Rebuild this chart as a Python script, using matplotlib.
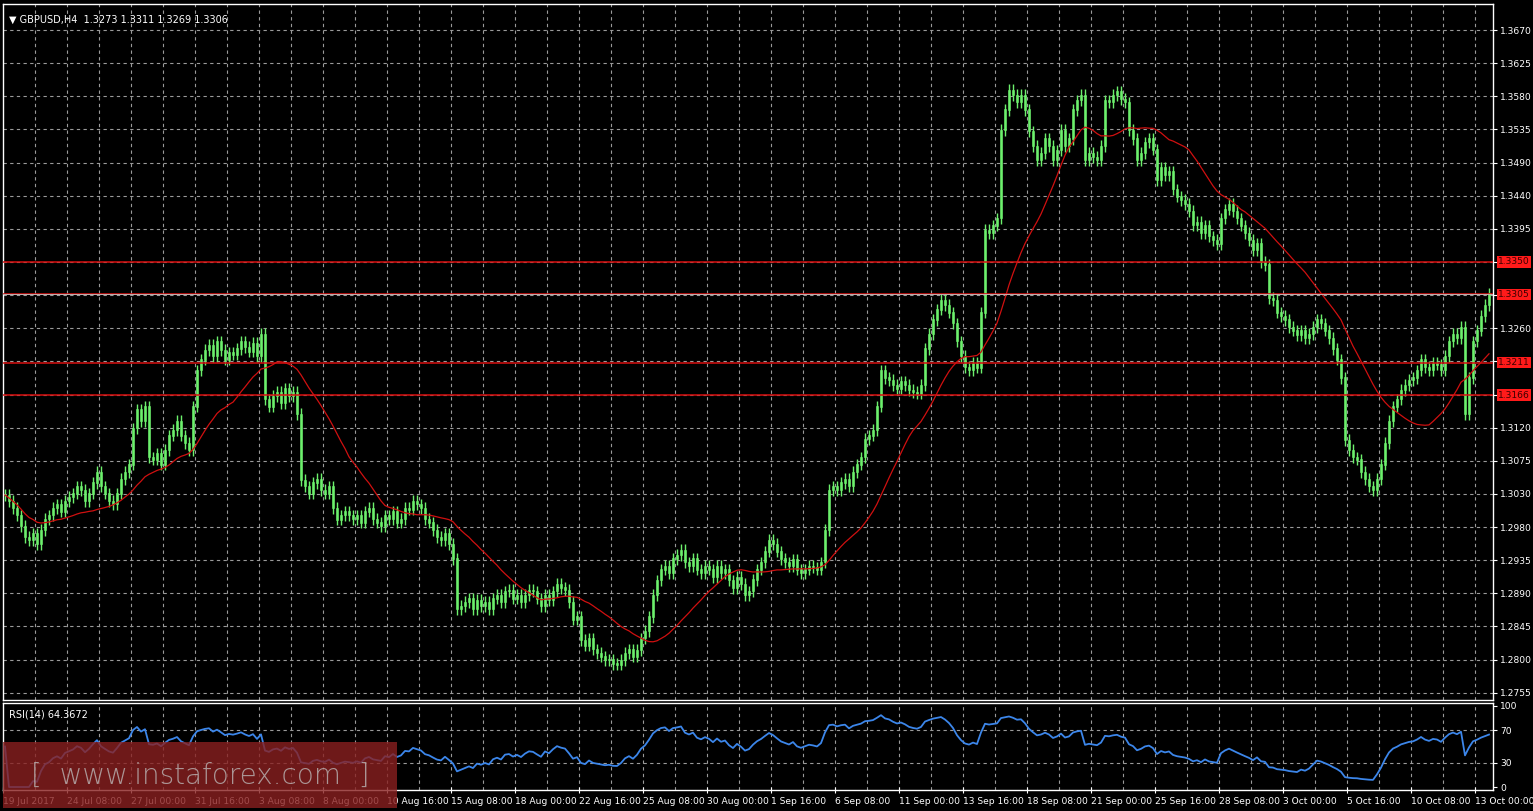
import numpy as np
import pandas as pd
import matplotlib
matplotlib.use("Agg")
import matplotlib.pyplot as plt
import matplotlib.transforms as mtransforms
from matplotlib.patches import Rectangle

closes_pips = [
13028,13020,13010,13000,12985,12970,12966,12975,12960,12980,12995,13000,13010,13015,13005,13020,
13025,13030,13040,13035,13020,13030,13045,13060,13040,13030,13020,13015,13030,13050,13060,13070,
13120,13146,13130,13150,13080,13077,13085,13070,13090,13110,13118,13130,13110,13100,13090,13150,
13200,13215,13228,13235,13220,13240,13228,13215,13225,13222,13230,13240,13232,13226,13238,13220,
13250,13160,13150,13165,13170,13155,13175,13165,13170,13140,13049,13040,13030,13045,13050,13035,
13030,13040,13010,12994,13000,13005,13000,12995,13000,12990,13005,13010,12995,12990,12985,13000,
12995,13005,12990,12995,13010,13008,13020,13015,13010,12995,12990,12980,12970,12966,12975,12960,
12940,12870,12875,12880,12885,12870,12883,12875,12880,12870,12885,12890,12880,12895,12897,12885,
12890,12880,12890,12897,12895,12885,12875,12890,12883,12895,12905,12900,12897,12880,12856,12860,
12828,12820,12830,12815,12810,12805,12800,12801,12795,12794,12800,12810,12815,12805,12814,12830,
12840,12860,12890,12910,12925,12930,12920,12940,12945,12952,12935,12930,12940,12925,12920,12930,
12925,12915,12930,12920,12925,12910,12900,12915,12905,12890,12895,12911,12925,12935,12950,12966,
12960,12950,12940,12935,12930,12939,12925,12920,12925,12930,12928,12925,12935,12980,13035,13040,
13035,13045,13050,13040,13060,13070,13080,13105,13110,13118,13150,13200,13190,13187,13180,13175,
13185,13180,13173,13170,13168,13180,13230,13250,13270,13284,13297,13290,13280,13265,13240,13220,
13205,13200,13210,13204,13280,13394,13390,13400,13410,13532,13560,13587,13580,13570,13580,13560,
13530,13510,13491,13500,13520,13510,13490,13504,13532,13510,13520,13560,13573,13580,13491,13500,
13495,13490,13510,13573,13570,13580,13585,13575,13570,13532,13520,13491,13500,13515,13520,13505,
13463,13480,13470,13475,13450,13440,13435,13430,13420,13401,13405,13390,13400,13385,13380,13375,
13410,13422,13430,13420,13410,13400,13390,13380,13366,13375,13350,13346,13300,13297,13280,13275,
13270,13260,13255,13249,13255,13245,13250,13260,13270,13265,13255,13245,13230,13215,13190,13104,
13090,13080,13077,13060,13050,13040,13035,13050,13070,13100,13130,13150,13160,13173,13180,13187,
13190,13200,13215,13205,13200,13210,13208,13200,13220,13240,13250,13245,13260,13140,13190,13240,
13255,13275,13290,13306]

date_labels = ["19 Jul 2017","24 Jul 08:00","27 Jul 00:00","31 Jul 16:00","3 Aug 08:00","8 Aug 00:00",
"10 Aug 16:00","15 Aug 08:00","18 Aug 00:00","22 Aug 16:00","25 Aug 08:00","30 Aug 00:00",
"1 Sep 16:00","6 Sep 08:00","11 Sep 00:00","13 Sep 16:00","18 Sep 08:00","21 Sep 00:00",
"25 Sep 16:00","28 Sep 08:00","3 Oct 00:00","5 Oct 16:00","10 Oct 08:00","13 Oct 00:00"]
price_labels = ["1.2755","1.2800","1.2845","1.2890","1.2935","1.2980","1.3030","1.3075","1.3120","",
"","1.3260","","","1.3395","1.3440","1.3490","1.3535","1.3580","1.3625","1.3670"]
levels = [1.3350, 1.3305, 1.3211, 1.3166]
level_labels = ["1.3350","1.3305","1.3211","1.3166"]

close = np.array(closes_pips) / 10000.0
n = len(close)
opn = np.concatenate([[close[0]], close[:-1]])
wick = 0.0008
high = np.maximum(opn, close) + wick
low = np.minimum(opn, close) - wick
ma = pd.Series(close).rolling(22, min_periods=1).mean().values
d = pd.Series(close).diff()
up = d.clip(lower=0).ewm(alpha=1/14, adjust=False).mean()
dn = (-d.clip(upper=0)).ewm(alpha=1/14, adjust=False).mean()
rsi = (100 - 100 / (1 + up / dn.replace(0, np.nan))).fillna(50).values

W, H = 1533, 811
fig = plt.figure(figsize=(W/100, H/100), dpi=100, facecolor="black")
def rect(l, t, r, b):
    return [l/W, 1-b/H, (r-l)/W, (b-t)/H]
ax = fig.add_axes(rect(3, 4, 1493, 700), facecolor="black")
ax2 = fig.add_axes(rect(3, 703, 1493, 790), facecolor="black")
green = "#6cf06c"
x = np.arange(n)
xl = (-0.5, 372.0)
for a in (ax, ax2):
    a.set_xlim(*xl)
    for s in a.spines.values():
        s.set_color("white"); s.set_linewidth(1)
    a.tick_params(left=False, bottom=False, labelleft=False, labelbottom=False)
    for g in np.arange(7.5, 372, 8):
        a.axvline(g, color="#9a9a9a", lw=0.8, ls=(0, (3, 3)), zorder=0)

ticks = np.linspace(1.2755, 1.3670, 21)
ax.set_ylim(1.2745, 1.3706)
for t in ticks:
    ax.axhline(t, color="#9a9a9a", lw=0.8, ls=(0, (3, 3)), zorder=0)
ax.yaxis.tick_right()
ax.set_yticks(ticks)
ax.set_yticklabels(price_labels)
ax.tick_params(axis="y", right=True, labelright=True, colors="white", labelsize=6.6, length=3, pad=2)

ax.vlines(x, low, high, color=green, lw=1, zorder=3)
ax.bar(x, np.abs(close-opn) + 0.00004, bottom=np.minimum(opn, close), width=0.6,
       color=green, edgecolor=green, lw=0.4, zorder=3)
ax.plot(x, ma, color="#d01010", lw=0.9, zorder=4)

trans = mtransforms.blended_transform_factory(ax.transAxes, ax.transData)
for v, lab in zip(levels, level_labels):
    ax.axhline(v, color="#d81010", lw=1.1, zorder=5)
    if lab == "1.3305":
        ax.axhline(v, color="#c8c8c8", lw=0.6, zorder=6)
    ax.text(1.0035, v, lab, transform=trans, fontsize=6.6, color="#3a0000", va="center", ha="left",
            bbox=dict(boxstyle="square,pad=0.15", fc="#ff1a1a", ec="none"), zorder=10, clip_on=False)

ax.text(0.004, 0.985, "\u25bc GBPUSD,H4  1.3273 1.3311 1.3269 1.3306", transform=ax.transAxes,
        color="white", fontsize=7, va="top", ha="left")

# RSI panel
ax2.set_ylim(-3.7, 103.7)
for lv in (30, 70):
    ax2.axhline(lv, color="#9a9a9a", lw=0.8, ls=(0, (3, 3)), zorder=0)
ax2.plot(x, rsi, color="#3c86ea", lw=1.3, zorder=3)
ax2.yaxis.tick_right()
ax2.set_yticks([0, 30, 70, 100])
ax2.set_yticklabels(["0", "30", "70", "100"])
ax2.tick_params(axis="y", right=True, labelright=True, colors="white", labelsize=6.6, length=3, pad=2)
ax2.text(0.004, 0.93, "RSI(14) %.4f" % 64.3672, transform=ax2.transAxes, color="white",
         fontsize=7, va="top", ha="left")

# date labels
ax2.set_xticks(np.arange(0, 372, 16) - 0.5)
ax2.set_xticklabels(date_labels)
ax2.tick_params(axis="x", bottom=True, labelbottom=True, colors="white", labelsize=6.6, length=4,
                direction="inout", pad=3)
for lab in ax2.get_xticklabels():
    lab.set_horizontalalignment("left")

# watermark
fig.patches.append(Rectangle((3/W, 1-808/H), 394/W, 66/H, transform=fig.transFigure,
                             facecolor="#8a2020", alpha=0.8, edgecolor="none", zorder=20))
fig.text(200/W, 1-776/H, "[  www.instaforex.com  ]", color="#c0c0c0", alpha=0.75, fontsize=20,
         ha="center", va="center", zorder=21, fontweight="light")

fig.savefig("out.png", dpi=100, facecolor="black")
